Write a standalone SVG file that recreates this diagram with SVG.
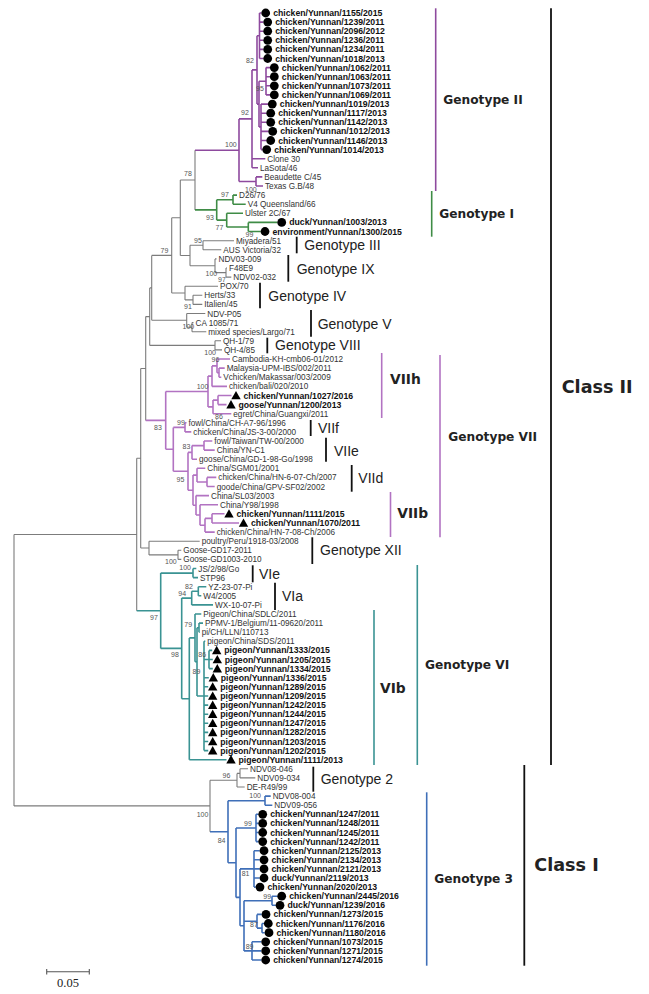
<svg xmlns="http://www.w3.org/2000/svg" width="649" height="994" viewBox="0 0 649 994">
<style>
.g{fill:none;stroke:#7c7c7c;stroke-width:1.1}
.p2{fill:none;stroke:#8e4a9e;stroke-width:1.6}
.gr{fill:none;stroke:#3f8c46;stroke-width:1.6}
.p7{fill:none;stroke:#b273c2;stroke-width:1.6}
.t{fill:none;stroke:#3a9393;stroke-width:1.6}
.b{fill:none;stroke:#3f6fb8;stroke-width:1.6}
.bar{fill:none;stroke:#111;stroke-width:1.8}
text{font-family:"Liberation Sans",Arial,sans-serif}
.l{font-size:8.2px;fill:#333}
.lb{font-size:8.7px;font-weight:bold;fill:#111}
.bs{font-size:7px;fill:#555}
.gl{font-size:14px;fill:#222}
.gb{font-family:"DejaVu Sans",Verdana,sans-serif;font-size:12.2px;font-weight:bold;fill:#222}
.sb{font-family:"DejaVu Sans",Verdana,sans-serif;font-size:13.8px;font-weight:bold;fill:#222}
.cl{font-family:"DejaVu Sans",Verdana,sans-serif;font-size:17.6px;font-weight:bold;fill:#222}
.sc{font-family:"Liberation Serif","Times New Roman",serif;font-size:12.5px;fill:#222}
</style>
<defs>
<circle id="dot" r="4.4" fill="#000"/>
<path id="tri" d="M0,-4.6L4.7,3.8L-4.7,3.8Z" fill="#000"/>
</defs>
<rect width="649" height="994" fill="#fff"/>
<g id="connectors">
<path class="g" d="M14 534.5V805.9M14 534.5H136.7M14 805.9H210M136.7 458.3V610.7M136.7 458.3H140.7M140.7 368.5V548M140.7 368.5H145.7M145.7 316.6V420.4M145.7 316.6H149.7M149.7 287.9V345.4M149.7 287.9H151.7M151.7 255.4V320.3M151.7 255.4H171.7M171.7 217.8V293M171.7 217.8H180.3M180.3 180V255.5M180.3 180H195M195 150.2V209.9M180.3 255.5H190M190 245.3V265.7M190 245.3H203M203 240.7V249.8M203 240.7H234M203 249.8H221.3M190 265.7H215M215 258.9V272.6M215 258.9H216.5M215 272.6H226M226 268V277.1M226 268H227M226 277.1H231.3M171.7 293H185M185 286.2V299.9M185 286.2H218M185 299.9H193M193 295.3V304.4M193 295.3H202.3M193 304.4H202.3M151.7 320.3H186.7M186.7 313.5V327.2M186.7 313.5H205.3M186.7 327.2H192M192 322.6V331.7M192 322.6H193.5M192 331.7H206.3M149.7 345.4H215M215 340.8V349.9M215 340.8H221M215 349.9H222M140.7 548H149M149 541.2V554.9M149 541.2H199.7M149 554.9H178M178 550.3V559.4M178 550.3H181.3M178 559.4H181.3M210 780.2V831.7M210 780.2H237M237 773.4V787M237 773.4H240M240 768.8V777.9M240 768.8H248M240 777.9H255.3M237 787H244.7"/>
<path class="p2" d="M195 150.2H239M239 118.9V181.5M239 118.9H252M252 69.9V167.8M252 69.9H257M257 35.8V104.1M257 35.8H259.5M259.5 13V58.5M259.5 13H261.4M259.5 22.1H263.4M259.5 31.2H263.4M259.5 40.3H263.4M259.5 49.4H263.4M259.5 58.5H263.4M257 104.1H259M259 81.3V126.9M259 81.3H266M266 67.6V94.9M266 67.6H270M266 76.7H270M266 85.8H270M266 94.9H270M259 126.9H261M261 104.1V149.6M261 104.1H268M261 113.2H266.4M261 122.3H266.4M261 131.4H268.4M261 140.5H266.4M261 149.6H262.4M252 158.7H265.3M252 167.8H258M239 181.5H256M256 176.9V186M256 176.9H262.3M256 186H263"/>
<path class="gr" d="M195 209.9H216.7M216.7 199.7V220.1M216.7 199.7H233M233 195.1V204.2M233 195.1H237M233 204.2H245.7M216.7 220.1H226.7M226.7 213.3V227M226.7 213.3H243M226.7 227H248.3M248.3 222.4V231.5M248.3 222.4H277.4M248.3 231.5H260.7"/>
<path class="p7" d="M145.7 420.4H165.7M165.7 391.5V449.3M165.7 391.5H208M208 376.1V406.9M208 376.1H212M212 365.9V386.4M212 365.9H217M217 359V372.7M217 359H230M217 372.7H219M219 368.1V377.3M219 368.1H224.7M219 377.3H221.3M212 386.4H227M208 406.9H213M213 400.1V413.7M213 400.1H218M218 395.5V404.6M218 395.5H231.5M218 404.6H226.5M213 413.7H231.3M165.7 449.3H173.3M173.3 427.4V471.3M173.3 427.4H185M185 422.8V431.9M185 422.8H186.5M185 431.9H191.3M173.3 471.3H188M188 452.4V490.2M188 452.4H192M192 445.6V459.2M192 445.6H204M204 441V450.1M204 441H212.3M204 450.1H214.7M192 459.2H197M188 490.2H193M193 475.1V505.3M193 475.1H197M197 468.3V482M197 468.3H205.3M197 482H207M207 477.4V486.5M207 477.4H216.3M207 486.5H214.7M193 505.3H196M196 495.6V515M196 495.6H209M196 515H200M200 504.7V525.3M200 504.7H218M200 525.3H205M205 518.4V532.1M205 518.4H212M212 513.8V523M212 513.8H224.5M212 523H239M205 532.1H214.7"/>
<path class="t" d="M136.7 610.7H160.7M160.7 573.1V648.4M160.7 573.1H193M193 568.5V577.6M193 568.5H196.3M193 577.6H198M160.7 648.4H181.7M181.7 598.1V698.8M181.7 598.1H191.7M191.7 591.3V604.9M191.7 591.3H198.3M198.3 586.7V595.8M198.3 586.7H206.3M198.3 595.8H201.3M191.7 604.9H213M181.7 698.8H189.3M189.3 637.9V759.7M189.3 637.9H195M195 614V661.8M195 614H201.3M195 661.8H197M197 627.7V696M197 627.7H199M199 623.1V632.2M199 623.1H203M199 632.2H199.7M197 696H204M204 641.3V750.6M204 641.3H205.3M204 659.5H209M209 650.4V668.6M209 650.4H212.2M209 659.5H212.8M209 668.6H212.8M204 677.7H208.8M204 686.8H208.2M204 696H208.2M204 705.1H208.2M204 714.2H208.2M204 723.3H208.2M204 732.4H208.2M204 741.5H208.2M204 750.6H208.2M189.3 759.7H226.5"/>
<path class="b" d="M210 831.7H228M228 800.7V862.7M228 800.7H265M265 796.1V805.2M265 796.1H270.7M265 805.2H272.3M228 862.7H236M236 828V897.4M236 828H256M256 814.3V841.6M256 814.3H258.4M256 823.4H258.4M256 832.5H258.4M256 841.6H258.4M236 897.4H240M240 868.9V925.8M240 868.9H254M254 850.7V887.1M254 850.7H259.7M254 859.8H259.7M254 868.9H259.7M254 878H259.7M254 887.1H255.7M240 925.8H244M244 900.8V950.9M244 900.8H272M272 896.2V905.3M272 896.2H277.4M272 905.3H275.7M244 921.3H257M257 914.4V928.1M257 914.4H261.7M257 928.1H262M262 923.5V932.7M262 923.5H264M262 932.7H264.7M244 950.9H252M252 941.8V960M252 941.8H261.4M252 950.9H261.4M252 960H261.4"/>
</g>
<g id="bootstrap">
<text class="bs" x="246" y="62.5">82</text>
<text class="bs" x="256" y="90.8">95</text>
<text class="bs" x="241" y="115">92</text>
<text class="bs" x="225" y="146.5">100</text>
<text class="bs" x="184" y="176">78</text>
<text class="bs" x="245" y="192">100</text>
<text class="bs" x="221" y="196.5">97</text>
<text class="bs" x="206" y="220">93</text>
<text class="bs" x="215.5" y="229.5">77</text>
<text class="bs" x="245.5" y="236.5">99</text>
<text class="bs" x="194" y="243">95</text>
<text class="bs" x="160.5" y="252.5">79</text>
<text class="bs" x="205.5" y="276">100</text>
<text class="bs" x="218" y="282">97</text>
<text class="bs" x="184" y="308.5">91</text>
<text class="bs" x="182.5" y="329">100</text>
<text class="bs" x="204.3" y="355">100</text>
<text class="bs" x="211.5" y="361.5">96</text>
<text class="bs" x="196.7" y="388.5">100</text>
<text class="bs" x="215" y="419">86</text>
<text class="bs" x="154" y="430">83</text>
<text class="bs" x="177" y="425">99</text>
<text class="bs" x="182.5" y="449">83</text>
<text class="bs" x="176.5" y="481.5">95</text>
<text class="bs" x="165" y="564">100</text>
<text class="bs" x="179.3" y="570">100</text>
<text class="bs" x="185" y="589">82</text>
<text class="bs" x="178.3" y="596">94</text>
<text class="bs" x="150" y="620">97</text>
<text class="bs" x="184.3" y="627">79</text>
<text class="bs" x="171" y="657">98</text>
<text class="bs" x="198.3" y="657">86</text>
<text class="bs" x="192.5" y="674">89</text>
<text class="bs" x="222.5" y="778">96</text>
<text class="bs" x="249.3" y="798">100</text>
<text class="bs" x="196.7" y="817">100</text>
<text class="bs" x="244" y="826">99</text>
<text class="bs" x="217.7" y="842.5">84</text>
<text class="bs" x="241.7" y="876">81</text>
<text class="bs" x="263.3" y="898.5">99</text>
<text class="bs" x="250" y="926.5">87</text>
<text class="bs" x="245.7" y="949">89</text>
</g>
<g id="leaves">
<g id="n1"><use href="#dot" x="265.7" y="13"/><text class="lb" x="273.2" y="16">chicken/Yunnan/1155/2015</text></g>
<g id="n2"><use href="#dot" x="267.7" y="22.1"/><text class="lb" x="275.2" y="25.1">chicken/Yunnan/1239/2011</text></g>
<g id="n3"><use href="#dot" x="267.7" y="31.2"/><text class="lb" x="275.2" y="34.2">chicken/Yunnan/2096/2012</text></g>
<g id="n4"><use href="#dot" x="267.7" y="40.3"/><text class="lb" x="275.2" y="43.3">chicken/Yunnan/1236/2011</text></g>
<g id="n5"><use href="#dot" x="267.7" y="49.4"/><text class="lb" x="275.2" y="52.4">chicken/Yunnan/1234/2011</text></g>
<g id="n6"><use href="#dot" x="267.7" y="58.5"/><text class="lb" x="275.2" y="61.5">chicken/Yunnan/1018/2013</text></g>
<g id="n7"><use href="#dot" x="274.3" y="67.6"/><text class="lb" x="281.8" y="70.6">chicken/Yunnan/1062/2011</text></g>
<g id="n8"><use href="#dot" x="274.3" y="76.7"/><text class="lb" x="281.8" y="79.7">chicken/Yunnan/1063/2011</text></g>
<g id="n9"><use href="#dot" x="274.3" y="85.8"/><text class="lb" x="281.8" y="88.8">chicken/Yunnan/1073/2011</text></g>
<g id="n10"><use href="#dot" x="274.3" y="94.9"/><text class="lb" x="281.8" y="97.9">chicken/Yunnan/1069/2011</text></g>
<g id="n11"><use href="#dot" x="272.3" y="104.1"/><text class="lb" x="279.8" y="107.1">chicken/Yunnan/1019/2013</text></g>
<g id="n12"><use href="#dot" x="270.7" y="113.2"/><text class="lb" x="278.2" y="116.2">chicken/Yunnan/1117/2013</text></g>
<g id="n13"><use href="#dot" x="270.7" y="122.3"/><text class="lb" x="278.2" y="125.3">chicken/Yunnan/1142/2013</text></g>
<g id="n14"><use href="#dot" x="272.7" y="131.4"/><text class="lb" x="280.2" y="134.4">chicken/Yunnan/1012/2013</text></g>
<g id="n15"><use href="#dot" x="270.7" y="140.5"/><text class="lb" x="278.2" y="143.5">chicken/Yunnan/1146/2013</text></g>
<g id="n16"><use href="#dot" x="266.7" y="149.6"/><text class="lb" x="274.2" y="152.6">chicken/Yunnan/1014/2013</text></g>
<g id="n17"><text class="l" x="267.3" y="161.7">Clone 30</text></g>
<g id="n18"><text class="l" x="260" y="170.8">LaSota/46</text></g>
<g id="n19"><text class="l" x="264.3" y="179.9">Beaudette C/45</text></g>
<g id="n20"><text class="l" x="265" y="189">Texas G.B/48</text></g>
<g id="n21"><text class="l" x="239" y="198.1">D26/76</text></g>
<g id="n22"><text class="l" x="247.7" y="207.2">V4 Queensland/66</text></g>
<g id="n23"><text class="l" x="245" y="216.3">Ulster 2C/67</text></g>
<g id="n24"><use href="#dot" x="281.7" y="222.4"/><text class="lb" x="289.2" y="225.4">duck/Yunnan/1003/2013</text></g>
<g id="n25"><use href="#dot" x="265" y="231.5"/><text class="lb" x="272.5" y="234.5">environment/Yunnan/1300/2015</text></g>
<g id="n26"><text class="l" x="236" y="243.7">Miyadera/51</text></g>
<g id="n27"><text class="l" x="223.3" y="252.8">AUS Victoria/32</text></g>
<g id="n28"><text class="l" x="218.5" y="261.9">NDV03-009</text></g>
<g id="n29"><text class="l" x="229" y="271">F48E9</text></g>
<g id="n30"><text class="l" x="233.3" y="280.1">NDV02-032</text></g>
<g id="n31"><text class="l" x="220" y="289.2">POX/70</text></g>
<g id="n32"><text class="l" x="204.3" y="298.3">Herts/33</text></g>
<g id="n33"><text class="l" x="204.3" y="307.4">Italien/45</text></g>
<g id="n34"><text class="l" x="207.3" y="316.5">NDV-P05</text></g>
<g id="n35"><text class="l" x="195.5" y="325.6">CA 1085/71</text></g>
<g id="n36"><text class="l" x="208.3" y="334.7">mixed species/Largo/71</text></g>
<g id="n37"><text class="l" x="223" y="343.8">QH-1/79</text></g>
<g id="n38"><text class="l" x="224" y="352.9">QH-4/85</text></g>
<g id="n39"><text class="l" x="232" y="362">Cambodia-KH-cmb06-01/2012</text></g>
<g id="n40"><text class="l" x="226.7" y="371.1">Malaysia-UPM-IBS/002/2011</text></g>
<g id="n41"><text class="l" x="223.3" y="380.3">Vchicken/Makassar/003/2009</text></g>
<g id="n42"><text class="l" x="229" y="389.4">chicken/bali/020/2010</text></g>
<g id="n43"><use href="#tri" x="236" y="395.5"/><text class="lb" x="243.5" y="398.5">chicken/Yunnan/1027/2016</text></g>
<g id="n44"><use href="#tri" x="231" y="404.6"/><text class="lb" x="238.5" y="407.6">goose/Yunnan/1200/2013</text></g>
<g id="n45"><text class="l" x="233.3" y="416.7">egret/China/Guangxi/2011</text></g>
<g id="n46"><text class="l" x="188.5" y="425.8">fowl/China/CH-A7-96/1996</text></g>
<g id="n47"><text class="l" x="193.3" y="434.9">chicken/China/JS-3-00/2000</text></g>
<g id="n48"><text class="l" x="214.3" y="444">fowl/Taiwan/TW-00/2000</text></g>
<g id="n49"><text class="l" x="216.7" y="453.1">China/YN-C1</text></g>
<g id="n50"><text class="l" x="199" y="462.2">goose/China/GD-1-98-Go/1998</text></g>
<g id="n51"><text class="l" x="207.3" y="471.3">China/SGM01/2001</text></g>
<g id="n52"><text class="l" x="218.3" y="480.4">chicken/China/HN-6-07-Ch/2007</text></g>
<g id="n53"><text class="l" x="216.7" y="489.5">goode/China/GPV-SF02/2002</text></g>
<g id="n54"><text class="l" x="211" y="498.6">China/SL03/2003</text></g>
<g id="n55"><text class="l" x="220" y="507.7">China/Y98/1998</text></g>
<g id="n56"><use href="#tri" x="229" y="513.8"/><text class="lb" x="236.5" y="516.8">chicken/Yunnan/1111/2015</text></g>
<g id="n57"><use href="#tri" x="243.5" y="523"/><text class="lb" x="251" y="526">chicken/Yunnan/1070/2011</text></g>
<g id="n58"><text class="l" x="216.7" y="535.1">chicken/China/HN-7-08-Ch/2006</text></g>
<g id="n59"><text class="l" x="201.7" y="544.2">poultry/Peru/1918-03/2008</text></g>
<g id="n60"><text class="l" x="183.3" y="553.3">Goose-GD17-2011</text></g>
<g id="n61"><text class="l" x="183.3" y="562.4">Goose-GD1003-2010</text></g>
<g id="n62"><text class="l" x="198.3" y="571.5">JS/2/98/Go</text></g>
<g id="n63"><text class="l" x="200" y="580.6">STP96</text></g>
<g id="n64"><text class="l" x="208.3" y="589.7">YZ-23-07-Pi</text></g>
<g id="n65"><text class="l" x="203.3" y="598.8">W4/2005</text></g>
<g id="n66"><text class="l" x="215" y="607.9">WX-10-07-Pi</text></g>
<g id="n67"><text class="l" x="203.3" y="617">Pigeon/China/SDLC/2011</text></g>
<g id="n68"><text class="l" x="205" y="626.1">PPMV-1/Belgium/11-09620/2011</text></g>
<g id="n69"><text class="l" x="201.7" y="635.2">pi/CH/LLN/110713</text></g>
<g id="n70"><text class="l" x="207.3" y="644.3">pigeon/China/SDS/2011</text></g>
<g id="n71"><use href="#tri" x="216.7" y="650.4"/><text class="lb" x="224.2" y="653.4">pigeon/Yunnan/1333/2015</text></g>
<g id="n72"><use href="#tri" x="217.3" y="659.5"/><text class="lb" x="224.8" y="662.5">pigeon/Yunnan/1205/2015</text></g>
<g id="n73"><use href="#tri" x="217.3" y="668.6"/><text class="lb" x="224.8" y="671.6">pigeon/Yunnan/1334/2015</text></g>
<g id="n74"><use href="#tri" x="213.3" y="677.7"/><text class="lb" x="220.8" y="680.7">pigeon/Yunnan/1336/2015</text></g>
<g id="n75"><use href="#tri" x="212.7" y="686.8"/><text class="lb" x="220.2" y="689.8">pigeon/Yunnan/1289/2015</text></g>
<g id="n76"><use href="#tri" x="212.7" y="696"/><text class="lb" x="220.2" y="699">pigeon/Yunnan/1209/2015</text></g>
<g id="n77"><use href="#tri" x="212.7" y="705.1"/><text class="lb" x="220.2" y="708.1">pigeon/Yunnan/1242/2015</text></g>
<g id="n78"><use href="#tri" x="212.7" y="714.2"/><text class="lb" x="220.2" y="717.2">pigeon/Yunnan/1244/2015</text></g>
<g id="n79"><use href="#tri" x="212.7" y="723.3"/><text class="lb" x="220.2" y="726.3">pigeon/Yunnan/1247/2015</text></g>
<g id="n80"><use href="#tri" x="212.7" y="732.4"/><text class="lb" x="220.2" y="735.4">pigeon/Yunnan/1282/2015</text></g>
<g id="n81"><use href="#tri" x="212.7" y="741.5"/><text class="lb" x="220.2" y="744.5">pigeon/Yunnan/1203/2015</text></g>
<g id="n82"><use href="#tri" x="212.7" y="750.6"/><text class="lb" x="220.2" y="753.6">pigeon/Yunnan/1202/2015</text></g>
<g id="n83"><use href="#tri" x="231" y="759.7"/><text class="lb" x="238.5" y="762.7">pigeon/Yunnan/1111/2013</text></g>
<g id="n84"><text class="l" x="250" y="771.8">NDV08-046</text></g>
<g id="n85"><text class="l" x="257.3" y="780.9">NDV09-034</text></g>
<g id="n86"><text class="l" x="246.7" y="790">DE-R49/99</text></g>
<g id="n87"><text class="l" x="272.7" y="799.1">NDV08-004</text></g>
<g id="n88"><text class="l" x="274.3" y="808.2">NDV09-056</text></g>
<g id="n89"><use href="#dot" x="262.7" y="814.3"/><text class="lb" x="270.2" y="817.3">chicken/Yunnan/1247/2011</text></g>
<g id="n90"><use href="#dot" x="262.7" y="823.4"/><text class="lb" x="270.2" y="826.4">chicken/Yunnan/1248/2011</text></g>
<g id="n91"><use href="#dot" x="262.7" y="832.5"/><text class="lb" x="270.2" y="835.5">chicken/Yunnan/1245/2011</text></g>
<g id="n92"><use href="#dot" x="262.7" y="841.6"/><text class="lb" x="270.2" y="844.6">chicken/Yunnan/1242/2011</text></g>
<g id="n93"><use href="#dot" x="264" y="850.7"/><text class="lb" x="271.5" y="853.7">chicken/Yunnan/2125/2013</text></g>
<g id="n94"><use href="#dot" x="264" y="859.8"/><text class="lb" x="271.5" y="862.8">chicken/Yunnan/2134/2013</text></g>
<g id="n95"><use href="#dot" x="264" y="868.9"/><text class="lb" x="271.5" y="871.9">chicken/Yunnan/2121/2013</text></g>
<g id="n96"><use href="#dot" x="264" y="878"/><text class="lb" x="271.5" y="881">duck/Yunnan/2119/2013</text></g>
<g id="n97"><use href="#dot" x="260" y="887.1"/><text class="lb" x="267.5" y="890.1">chicken/Yunnan/2020/2013</text></g>
<g id="n98"><use href="#dot" x="281.7" y="896.2"/><text class="lb" x="289.2" y="899.2">chicken/Yunnan/2445/2016</text></g>
<g id="n99"><use href="#dot" x="280" y="905.3"/><text class="lb" x="287.5" y="908.3">duck/Yunnan/1239/2016</text></g>
<g id="n100"><use href="#dot" x="266" y="914.4"/><text class="lb" x="273.5" y="917.4">chicken/Yunnan/1273/2015</text></g>
<g id="n101"><use href="#dot" x="268.3" y="923.5"/><text class="lb" x="275.8" y="926.5">chicken/Yunnan/1176/2016</text></g>
<g id="n102"><use href="#dot" x="269" y="932.7"/><text class="lb" x="276.5" y="935.7">chicken/Yunnan/1180/2016</text></g>
<g id="n103"><use href="#dot" x="265.7" y="941.8"/><text class="lb" x="273.2" y="944.8">chicken/Yunnan/1073/2015</text></g>
<g id="n104"><use href="#dot" x="265.7" y="950.9"/><text class="lb" x="273.2" y="953.9">chicken/Yunnan/1271/2015</text></g>
<g id="n105"><use href="#dot" x="265.7" y="960"/><text class="lb" x="273.2" y="963">chicken/Yunnan/1274/2015</text></g>
</g>
<g id="groups">
<g id="gIII"><path class="bar" d="M296.7 236.7V253.3"/><text class="gl" x="304.3" y="250">Genotype III</text></g>
<g id="gIX"><path class="bar" d="M288.3 255V281.7"/><text class="gl" x="296.7" y="273.5">Genotype IX</text></g>
<g id="gIV"><path class="bar" d="M260 282.7V308.3"/><text class="gl" x="268.3" y="301">Genotype IV</text></g>
<g id="gV"><path class="bar" d="M311 310V336.7"/><text class="gl" x="317.7" y="328.5">Genotype V</text></g>
<g id="gVIII"><path class="bar" d="M267.3 337.7V353.3"/><text class="gl" x="275" y="350">Genotype VIII</text></g>
<g id="gVIIf"><path class="bar" d="M310.7 420V436"/><text class="gl" x="318" y="432.5">VIIf</text></g>
<g id="gVIIe"><path class="bar" d="M326 437.7V461.7"/><text class="gl" x="334" y="456">VIIe</text></g>
<g id="gVIId"><path class="bar" d="M351.7 465V491.7"/><text class="gl" x="358.3" y="482.5">VIId</text></g>
<g id="gXII"><path class="bar" d="M312.3 537.3V564"/><text class="gl" x="320" y="555">Genotype XII</text></g>
<g id="gVIe"><path class="bar" d="M252.7 565.3V582.3"/><text class="gl" x="259" y="578.5">VIe</text></g>
<g id="gVIa"><path class="bar" d="M275 582.7V610"/><text class="gl" x="282" y="601">VIa</text></g>
<g id="g2"><path class="bar" d="M313.3 766.7V791.7"/><text class="gl" x="320.7" y="784">Genotype 2</text></g>
<g id="gII"><path class="p2" d="M435.7 8.3V191"/><text class="gb" x="443.3" y="103.8">Genotype II</text></g>
<g id="gI"><path class="gr" d="M431.7 191V236.7"/><text class="gb" x="439.3" y="217.8">Genotype I</text></g>
<g id="gVIIh"><path class="p7" d="M381.7 353V418"/><text class="sb" x="390" y="384">VIIh</text></g>
<g id="gVII"><path class="p7" d="M440 355V537.3"/><text class="gb" x="448.3" y="441.2">Genotype VII</text></g>
<g id="gVIIb"><path class="p7" d="M390.5 492V537"/><text class="sb" x="397.3" y="518.3">VIIb</text></g>
<g id="gVIb"><path class="t" d="M374 610V765"/><text class="sb" x="380" y="693.3">VIb</text></g>
<g id="gVI"><path class="t" d="M417.3 565V765"/><text class="gb" x="425" y="668.8">Genotype VI</text></g>
<g id="g3"><path class="b" d="M426.7 792.3V965.7"/><text class="gb" x="434.3" y="882.8">Genotype 3</text></g>
<g id="cII"><path class="bar" d="M551 8.3V765"/><text class="cl" x="561.7" y="393.1">Class II</text></g>
<g id="cI"><path class="bar" d="M524.3 765V965.7"/><text class="cl" x="534.3" y="871.4">Class I</text></g>
</g>
<g id="scale">
<path d="M46.7 971.7H89.3M46.7 969V974.4M89.3 969V974.4" fill="none" stroke="#555" stroke-width="1.1"/>
<text class="sc" x="68" y="987" text-anchor="middle">0.05</text>
</g>
</svg>
